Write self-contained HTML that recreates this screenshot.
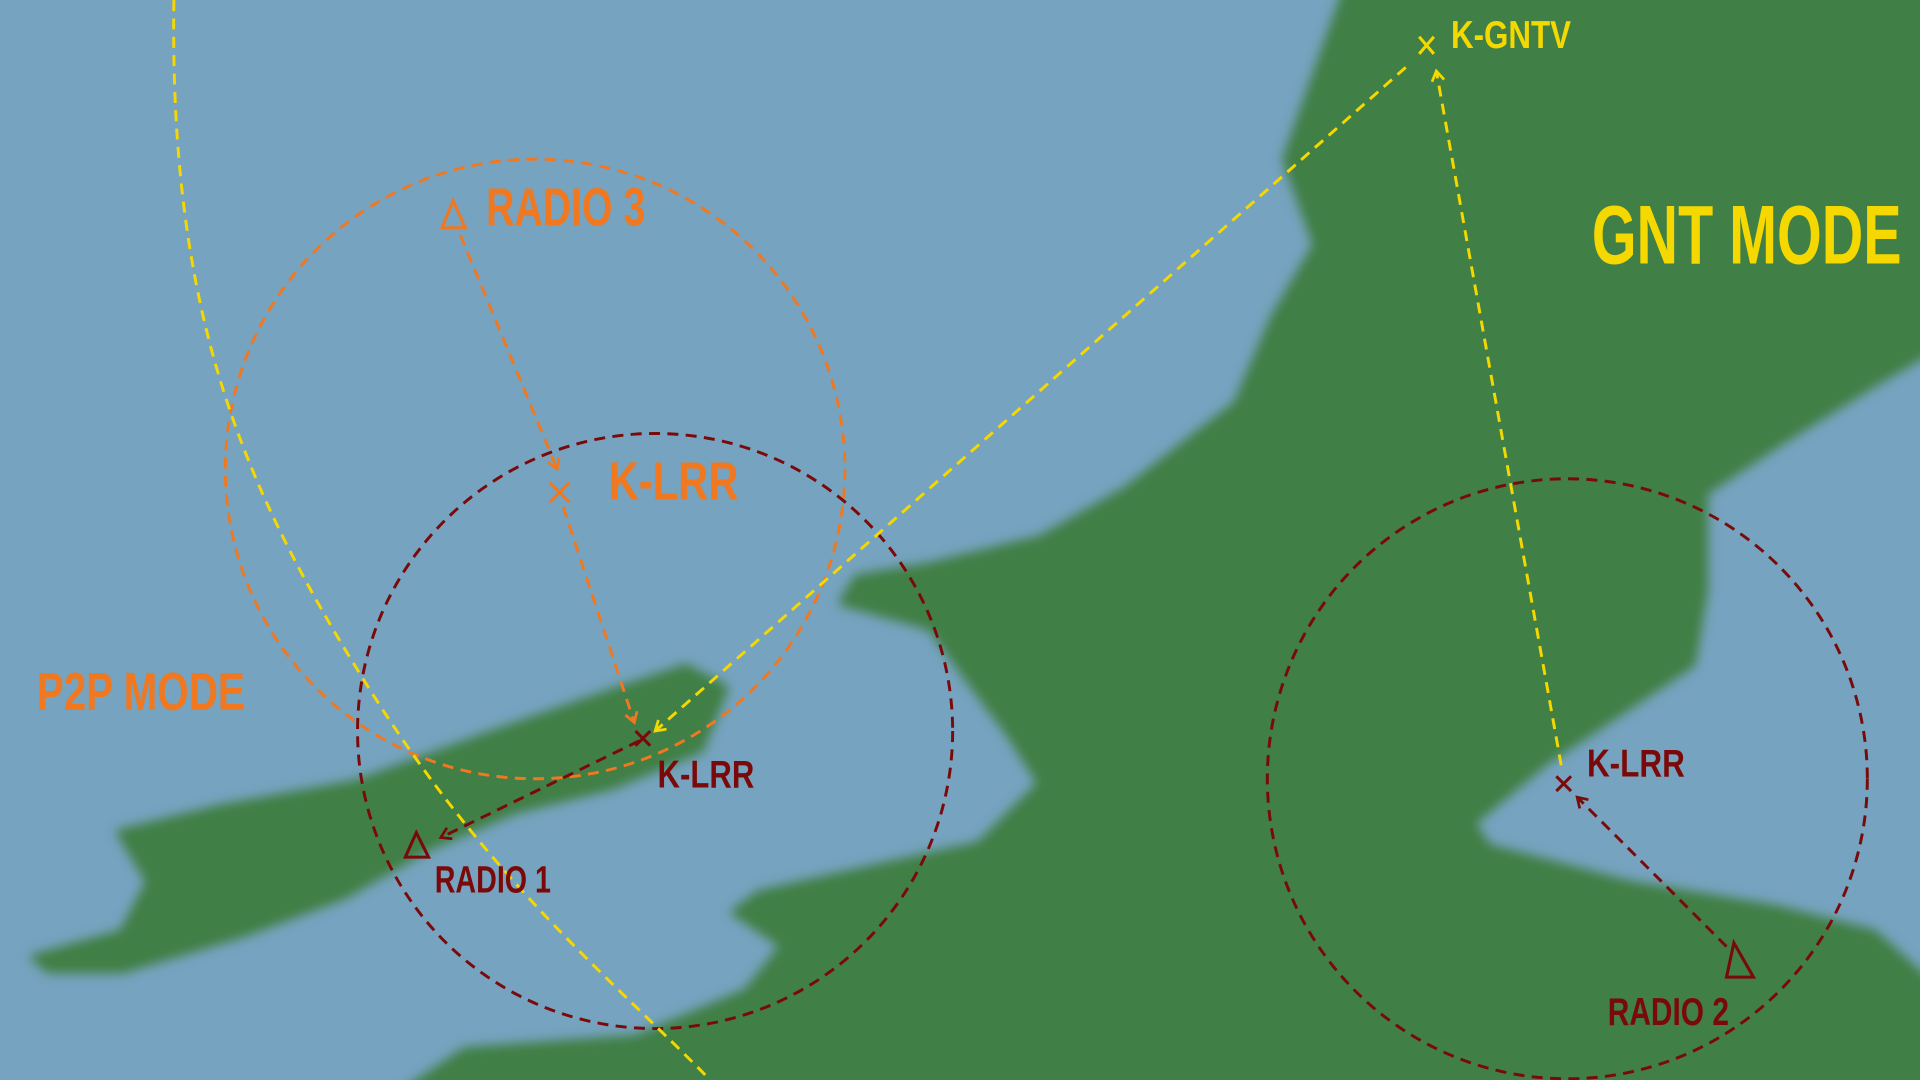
<!DOCTYPE html>
<html><head><meta charset="utf-8"><style>
html,body{margin:0;padding:0;width:1920px;height:1080px;overflow:hidden;background:#76a3c0}
svg{display:block}
text{font-family:"Liberation Sans Narrow","Liberation Sans",sans-serif;font-weight:bold}
</style></head><body>
<svg width="1920" height="1080" viewBox="0 0 1568 882" xmlns="http://www.w3.org/2000/svg">
<defs>
<filter id="b" x="-10%" y="-10%" width="120%" height="120%"><feGaussianBlur stdDeviation="4.5"/></filter>
<marker id="ao" markerWidth="12" markerHeight="12" refX="9" refY="6" orient="auto" markerUnits="userSpaceOnUse"><path d="M1,1 L9,6 L1,11" fill="none" stroke="#f07820" stroke-width="2.2"/></marker>
<marker id="ar" markerWidth="12" markerHeight="12" refX="9" refY="6" orient="auto" markerUnits="userSpaceOnUse"><path d="M1,1 L9,6 L1,11" fill="none" stroke="#7a0a0a" stroke-width="2.2"/></marker>
<marker id="ay" markerWidth="12" markerHeight="12" refX="9" refY="6" orient="auto" markerUnits="userSpaceOnUse"><path d="M1,1 L9,6 L1,11" fill="none" stroke="#f5d800" stroke-width="2.2"/></marker>
</defs>
<rect width="1568" height="882" fill="#76a3c0"/>
<g fill="#3f7f45" filter="url(#b)" stroke="#3f7f45" stroke-width="6" stroke-linejoin="round">
<path d="M1100,-10 L1075,60 L1050,130 L1075,200 L1040,260 L1010,330 L920,400 L850,440 L760,462 L700,472 L688,492 L760,512 L795,560 L825,600 L850,640 L800,690 L700,712 L620,730 L600,745 L640,772 L610,810 L520,848 L380,858 L330,892 L1578,892 L1578,805 L1530,762 L1450,742 L1330,722 L1215,692 L1202,672 L1262,622 L1322,582 L1382,542 L1392,482 L1392,402 L1452,362 L1532,312 L1578,285 L1578,-10 Z"/>
<path d="M28,782 L100,762 L122,720 L98,680 L180,660 L290,640 L400,600 L480,572 L560,545 L592,562 L572,612 L500,642 L420,662 L350,692 L280,732 L200,762 L100,792 L40,792 Z"/>
</g>
<g fill="none" stroke-dasharray="9,6" stroke-width="2.4">
<circle cx="437" cy="383" r="253" stroke="#f07820"/>
<circle cx="535" cy="597" r="243" stroke="#7a0a0a"/>
<circle cx="1280" cy="636" r="245" stroke="#7a0a0a"/>
<path d="M142,0 C138,260 200,400 300,560 S 500,800 580,882" stroke="#f5d800"/>
<line x1="376" y1="192" x2="455" y2="383" stroke="#f07820" marker-end="url(#ao)"/>
<line x1="460" y1="414" x2="518" y2="590" stroke="#f07820" marker-end="url(#ao)"/>
<line x1="522" y1="605" x2="360" y2="684" stroke="#7a0a0a" marker-end="url(#ar)"/>
<line x1="1148" y1="55" x2="535" y2="597" stroke="#f5d800" marker-end="url(#ay)"/>
<line x1="1275" y1="625" x2="1173" y2="58" stroke="#f5d800" marker-end="url(#ay)"/>
<line x1="1410" y1="773" x2="1288" y2="651" stroke="#7a0a0a" marker-end="url(#ar)"/>
</g>
<g fill="none" stroke-width="2.5">
<path d="M370,164 L380,186 L361,186 Z" stroke="#f07820"/>
<path d="M449,394 L465,410 M465,394 L449,410" stroke="#f07820"/>
<path d="M519,597 L531,609 M531,597 L519,609" stroke="#7a0a0a"/>
<path d="M340,680 L350,700 L331,700 Z" stroke="#7a0a0a"/>
<path d="M1159,30 L1171,44 M1171,30 L1159,44" stroke="#f5d800"/>
<path d="M1271,634 L1283,646 M1283,634 L1271,646" stroke="#7a0a0a"/>
<path d="M1416,770 L1432,798 L1410,798 Z" stroke="#7a0a0a"/>
</g>
<text x="1300" y="215" font-size="68" fill="#f5d800" textLength="253" lengthAdjust="spacingAndGlyphs">GNT MODE</text>
<text x="30" y="580" font-size="44" fill="#f07820" textLength="170" lengthAdjust="spacingAndGlyphs">P2P MODE</text>
<text x="397" y="184" font-size="44" fill="#f07820" textLength="130" lengthAdjust="spacingAndGlyphs">RADIO 3</text>
<text x="497" y="408" font-size="44" fill="#f07820" textLength="106" lengthAdjust="spacingAndGlyphs">K-LRR</text>
<text x="537" y="643" font-size="32" fill="#7a0a0a" textLength="79" lengthAdjust="spacingAndGlyphs">K-LRR</text>
<text x="355" y="729" font-size="31" fill="#7a0a0a" textLength="95" lengthAdjust="spacingAndGlyphs">RADIO 1</text>
<text x="1185" y="39" font-size="32" fill="#f5d800" textLength="98" lengthAdjust="spacingAndGlyphs">K-GNTV</text>
<text x="1296" y="634" font-size="32" fill="#7a0a0a" textLength="80" lengthAdjust="spacingAndGlyphs">K-LRR</text>
<text x="1313" y="837" font-size="32" fill="#7a0a0a" textLength="99" lengthAdjust="spacingAndGlyphs">RADIO 2</text>
</svg>
</body></html>
